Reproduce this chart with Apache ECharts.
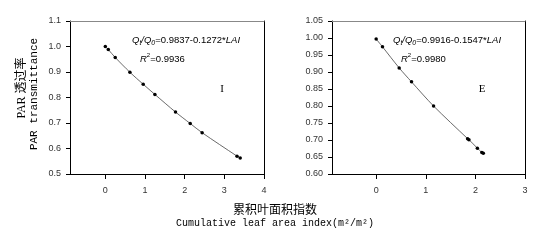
<!DOCTYPE html>
<html>
<head>
<meta charset="utf-8">
<script src="https://cdn.jsdelivr.net/npm/echarts@6/dist/echarts.min.js"></script>
<style>html,body{margin:0;padding:0;background:#fff}#c{width:552px;height:243px}</style>
</head>
<body>
<div id="c"></div>
<script>
// Left panel (I)
const laiI = [0, 0.075, 0.25, 0.62, 0.955, 1.25, 1.77, 2.14, 2.44, 3.32, 3.40];
const transI = [1.000, 0.988, 0.957, 0.899, 0.852, 0.812, 0.743, 0.698, 0.662, 0.570, 0.563];
// Right panel (E)
const laiE = [0, 0.128, 0.464, 0.713, 1.157, 1.843, 1.87, 2.04, 2.13, 2.16];
const transE = [0.997, 0.974, 0.912, 0.871, 0.800, 0.704, 0.701, 0.676, 0.663, 0.661];
const xTicksI = [0, 1, 2, 3, 4];
const xTicksE = [0, 1, 2, 3];

const chart = echarts.init(document.getElementById('c'), null, {renderer: 'canvas'});
const lblFont = {fontFamily: 'Liberation Sans', fontSize: 9, color: '#333'};
function xAx(grid, min, max, ticks) {
  return {
    type: 'value', gridIndex: grid, min: min, max: max,
    axisLine: {show: true, onZero: false, lineStyle: {color: '#000', width: 1}},
    axisTick: {show: true, length: 5, customValues: ticks, lineStyle: {color: '#000'}},
    axisLabel: Object.assign({show: true, margin: 12, customValues: ticks}, lblFont),
    splitLine: {show: false}
  };
}
function xTop(grid, min, max) {
  return {
    type: 'value', gridIndex: grid, min: min, max: max, position: 'top',
    axisLine: {show: true, onZero: false, lineStyle: {color: '#888', width: 1}},
    axisTick: {show: false}, axisLabel: {show: false}, splitLine: {show: false}
  };
}
function yAx(grid, min, max, step, dec) {
  return {
    type: 'value', gridIndex: grid, min: min, max: max, interval: step,
    axisLine: {show: true, onZero: false, lineStyle: {color: '#000', width: 1}},
    axisTick: {show: true, length: 4, lineStyle: {color: '#000'}},
    axisLabel: Object.assign({show: true, margin: 9, formatter: v => v.toFixed(dec)}, lblFont),
    splitLine: {show: false}
  };
}
function yRight(grid, min, max) {
  return {
    type: 'value', gridIndex: grid, min: min, max: max, position: 'right',
    axisLine: {show: true, onZero: false, lineStyle: {color: '#000', width: 1}},
    axisTick: {show: false}, axisLabel: {show: false}, splitLine: {show: false}
  };
}
function ser(xi, yi, xs, ys) {
  return {
    type: 'line', xAxisIndex: xi, yAxisIndex: yi, smooth: 0.3,
    data: xs.map((x, i) => [x, ys[i]]),
    symbol: 'circle', symbolSize: 3.5, showSymbol: true,
    lineStyle: {color: '#444', width: 0.8},
    itemStyle: {color: '#000'}, animation: false
  };
}
const eqRich = {
  i: {fontFamily: 'Liberation Sans', fontStyle: 'italic', fontSize: 9.5, color: '#111', lineHeight: 12, verticalAlign: 'middle'},
  n: {fontFamily: 'Liberation Sans', fontSize: 9.5, color: '#111', lineHeight: 12, verticalAlign: 'middle'},
  sub: {fontFamily: 'Liberation Sans', fontStyle: 'italic', fontSize: 7, color: '#111', lineHeight: 14, verticalAlign: 'bottom'},
  sup: {fontFamily: 'Liberation Sans', fontSize: 6, color: '#111', lineHeight: 14, verticalAlign: 'top'}
};
function eq(x, y, a, b) {
  return {type: 'text', x: x, y: y, style: {text: '{i|Q}{sub|t}{i|/Q}{sub|0}{n|=' + a + '-' + b + '*}{i|LAI}', rich: eqRich, verticalAlign: 'middle'}};
}
function r2(x, y, v) {
  return {type: 'text', x: x, y: y, style: {text: '{i|R}{sup|2}{n|=' + v + '}', rich: eqRich, verticalAlign: 'middle'}};
}
chart.setOption({
  animation: false,
  grid: [
    {left: 70, top: 21, width: 194, height: 153, show: false},
    {left: 332, top: 21, width: 193, height: 153, show: false}
  ],
  xAxis: [xAx(0, -0.89, 4, xTicksI), xAx(1, -0.89, 3, xTicksE), xTop(0, -0.89, 4), xTop(1, -0.89, 3)],
  yAxis: [yAx(0, 0.5, 1.1, 0.1, 1), yAx(1, 0.6, 1.05, 0.05, 2), yRight(0, 0.5, 1.1), yRight(1, 0.6, 1.05)],
  series: [ser(0, 0, laiI, transI), ser(1, 1, laiE, transE)],
  graphic: [
    eq(132, 40, '0.9837', '0.1272'),
    r2(140, 59, '0.9936'),
    eq(393, 40, '0.9916', '0.1547'),
    r2(401, 59, '0.9980'),
    {type: 'text', x: 222, y: 89, style: {text: 'I', fontFamily: 'Liberation Serif', fontSize: 11, fill: '#000', align: 'center', verticalAlign: 'middle'}},
    {type: 'text', x: 482, y: 89, style: {text: 'E', fontFamily: 'Liberation Serif', fontSize: 11, fill: '#000', align: 'center', verticalAlign: 'middle'}},
    {type: 'text', x: 22, y: 88, rotation: Math.PI / 2, style: {text: 'PAR 透过率', fontFamily: 'Liberation Serif, Noto Sans CJK SC', fontSize: 12, fill: '#000', align: 'center', verticalAlign: 'middle'}},
    {type: 'text', x: 34, y: 94, rotation: Math.PI / 2, style: {text: 'PAR transmittance', fontFamily: 'Liberation Mono', fontSize: 11, fill: '#000', align: 'center', verticalAlign: 'middle'}},
    {type: 'text', x: 275, y: 209, style: {text: '累积叶面积指数', fontFamily: 'Noto Sans CJK SC', fontSize: 12, fill: '#000', align: 'center', verticalAlign: 'middle'}},
    {type: 'text', x: 275, y: 223, style: {text: 'Cumulative leaf area index(m²/m²)', fontFamily: 'Liberation Mono', fontSize: 10, fill: '#000', align: 'center', verticalAlign: 'middle'}}
  ]
});
</script>
</body>
</html>
